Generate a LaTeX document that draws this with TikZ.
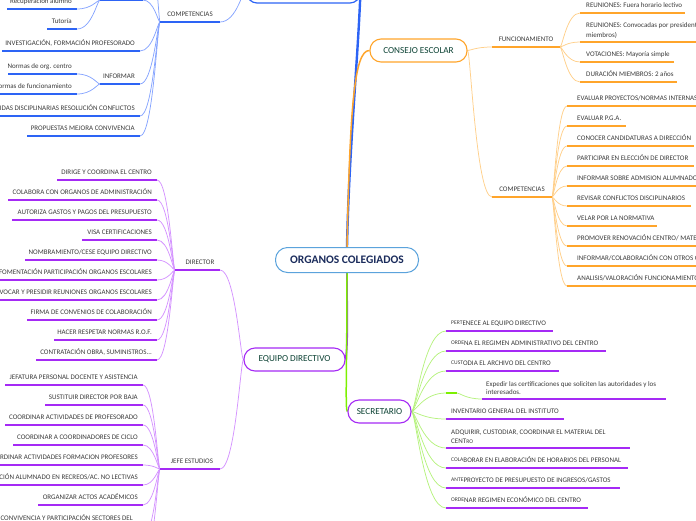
\documentclass[tikz,border=0pt]{standalone}
\usepackage{fontspec}
\setmainfont{Carlito}
\usetikzlibrary{calc}
\pgfdeclarelayer{bg}
\pgfsetlayers{bg,main}
\definecolor{blueD}{HTML}{2D64F5}
\definecolor{blueL}{HTML}{86A4FF}
\definecolor{orangeD}{HTML}{FFA52B}
\definecolor{orangeL}{HTML}{FFCF8A}
\definecolor{purpleD}{HTML}{A52AF5}
\definecolor{purpleL}{HTML}{D493FF}
\definecolor{greenD}{HTML}{7CF000}
\definecolor{greenL}{HTML}{B6F27E}
\definecolor{txtc}{HTML}{3A3A3A}
\definecolor{titlec}{HTML}{0C4234}
\definecolor{cenT}{HTML}{1B2C5C}
\definecolor{cenB}{HTML}{5BA3DC}
\tikzset{
 txt/.style={inner sep=0pt, font=\fontsize{7}{9}\selectfont, text=txtc},
 uline/.style={line width=1.9pt},
 conn/.style={line width=0.75pt},
 titlebox/.style={draw, rounded corners=11pt, line width=1.1pt, fill=white, inner sep=0pt,
   font=\fontsize{9.2}{11}\selectfont, text=titlec},
}
% link from fan #2 to point #3 with style #1
\newcommand\Lk[3]{\begin{pgfonlayer}{bg}\draw[conn,#1] (#2) .. controls ($(#2)!0.12!(#2-|#3)$) and ($(#3-|#2)!0.35!(#3)$) .. (#3);\end{pgfonlayer}}
% left child: name, fan, rightx, y, leftx, text, underline colour, connector colour
\newcommand\Lc[8]{%
 \coordinate (#1r) at (#3,#4);
 \coordinate (#1l) at (#5,#4);
 \node[txt, anchor=base east] (#1) at (#3-5,#4-5.5) {#6};
 \draw[uline,#7] (#1l) -- (#1r);
 \Lk{#8}{#2}{#1r}}
% right child: name, fan, leftx, y, rightx, text, underline colour, connector colour, pad
\newcommand\Rc[9]{%
 \coordinate (#1l) at (#3,#4);
 \coordinate (#1r) at (#5,#4);
 \node[txt, anchor=base west] (#1) at (#3+#9,#4-5.5) {#6};
 \draw[uline,#7] (#1l) -- (#1r);
 \Lk{#8}{#2}{#1l}}
\newcommand\sml[1]{\raisebox{0.9pt}{\fontsize{5.6}{6}\selectfont #1}}
\begin{document}
\begin{tikzpicture}[x=1pt,y=-1pt]
\useasboundingbox (0,0) rectangle (696,520);
\clip (0,0) rectangle (696,520);

% ---------- central ----------
\node[draw=cenB, line width=1pt, rounded corners=12pt, fill=white, inner sep=0pt,
  minimum width=143pt, minimum height=25pt, text=cenT,
  font=\bfseries\fontsize{11.5}{13}\selectfont] (central) at (347,260) {ORGANOS COLEGIADOS};

% ---------- blue (top) ----------
\node[draw=blueD, line width=1.2pt, rounded corners=10pt, minimum width=113pt,
  minimum height=30pt, inner sep=0pt] (claus) at (303.5,-12) {};
\begin{pgfonlayer}{bg}
\draw[blueD, line width=2.4pt] (central.north) .. controls (349,150) and (358,60) .. (claus.east);
\end{pgfonlayer}
\coordinate (bcl) at (160,22);
\coordinate (bcr) at (220,22);
\node[txt, anchor=base] (bcomp) at (190,16.5) {COMPETENCIAS};
\draw[uline,blueD] (bcl) -- (bcr);
\Lk{blueL}{claus.west}{bcr}
\Lc{bz}{bcl}{143}{0}{100}{}{blueD}{blueL}
\coordinate (bzz) at (150,-40);
\Lk{blueL}{bcl}{bzz}
\Lc{bi}{bcl}{140}{51}{2}{INVESTIGACIÓN, FORMACIÓN PROFESORADO}{blueD}{blueL}
\Lc{bn}{bcl}{140}{84}{100}{INFORMAR}{blueD}{blueL}
\Lc{bm}{bcl}{140}{116}{0}{MEDIDAS DISCIPLINARIAS RESOLUCIÓN CONFLICTOS}{blueD}{blueL}
\Lc{bp}{bcl}{140}{136}{27}{PROPUESTAS MEJORA CONVIVENCIA}{blueD}{blueL}
\Lc{br}{bzl}{77}{9}{7}{Recuperación alumno}{blueD}{blueL}
\Lc{bt}{bzl}{77}{29}{47}{Tutoría}{blueD}{blueL}
\Lc{bo}{bnl}{77}{74}{8}{Normas de org. centro}{blueD}{blueL}
\Lc{bf}{bnl}{77}{94}{0}{Normas de funcionamiento}{blueD}{blueL}

% ---------- orange (consejo escolar) ----------
\node[titlebox, draw=orangeD, minimum width=97pt, minimum height=23pt] (cons) at (418.5,50.5) {CONSEJO ESCOLAR};
\begin{pgfonlayer}{bg}
\draw[orangeD, line width=1.5pt] (central.north) .. controls (350,110) and (354,50) .. (cons.west);
\end{pgfonlayer}
\coordinate (fnl) at (492,47);
\coordinate (fnr) at (560,47);
\node[txt, anchor=base] (func) at (526,41.5) {FUNCIONAMIENTO};
\draw[uline,orangeD] (fnl) -- (fnr);
\Lk{orangeL}{cons.east}{fnl}
\coordinate (cpl) at (492,197);
\coordinate (cpr) at (552,197);
\node[txt, anchor=base] (ocomp) at (522,191.5) {COMPETENCIAS};
\draw[uline,orangeD] (cpl) -- (cpr);
\Lk{orangeL}{cons.east}{cpl}

\Rc{fa}{fnr}{580}{13}{685}{REUNIONES: Fuera horario lectivo}{orangeD}{orangeL}{6}
\coordinate (fbl) at (580,42);
\coordinate (fbr) at (710,42);
\node[txt, anchor=base west, font=\fontsize{7}{10}\selectfont] (fb) at (586,27.5)
  {\begin{tabular}[t]{@{}l@{}}REUNIONES: Convocadas por presidente (o 1/3 de los\\miembros)\end{tabular}};
\draw[uline,orangeD] (fbl) -- (fbr);
\Lk{orangeL}{fnr}{fbl}
\Rc{fc}{fnr}{580}{62}{674}{VOTACIONES: Mayoría simple}{orangeD}{orangeL}{6}
\Rc{fd}{fnr}{580}{82}{677}{DURACIÓN MIEMBROS: 2 años}{orangeD}{orangeL}{6}

\Rc{c1}{cpr}{567}{106}{710}{EVALUAR PROYECTOS/NORMAS INTERNAS}{orangeD}{orangeL}{10}
\Rc{c2}{cpr}{567}{126}{626}{EVALUAR P.G.A.}{orangeD}{orangeL}{10}
\Rc{c3}{cpr}{567}{146}{694}{CONOCER CANDIDATURAS A DIRECCIÓN}{orangeD}{orangeL}{10}
\Rc{c4}{cpr}{567}{166}{694}{PARTICIPAR EN ELECCIÓN DE DIRECTOR}{orangeD}{orangeL}{10}
\Rc{c5}{cpr}{567}{186}{710}{INFORMAR SOBRE ADMISION ALUMNADO}{orangeD}{orangeL}{10}
\Rc{c6}{cpr}{567}{206}{691}{REVISAR CONFLICTOS DISCIPLINARIOS}{orangeD}{orangeL}{10}
\Rc{c7}{cpr}{567}{226}{657}{VELAR POR LA NORMATIVA}{orangeD}{orangeL}{10}
\Rc{c8}{cpr}{567}{246}{710}{PROMOVER RENOVACIÓN CENTRO/ MATERIALES}{orangeD}{orangeL}{10}
\Rc{c9}{cpr}{567}{266}{710}{INFORMAR/COLABORACIÓN CON OTROS ORGANISMOS}{orangeD}{orangeL}{10}
\Rc{c10}{cpr}{567}{286}{710}{ANALISIS/VALORACIÓN FUNCIONAMIENTO}{orangeD}{orangeL}{10}

% ---------- purple (equipo directivo) ----------
\node[titlebox, draw=purpleD, minimum width=101pt, minimum height=23pt] (eq) at (294.5,359.5) {EQUIPO DIRECTIVO};
\begin{pgfonlayer}{bg}
\draw[purpleD, line width=1.8pt] (central.south) .. controls (347,320) and (348,345) .. (eq.east);
\end{pgfonlayer}
\coordinate (dil) at (175,270);
\coordinate (dir) at (220,270);
\node[txt, anchor=base] (director) at (200,264.5) {DIRECTOR};
\draw[uline,purpleD] (dil) -- (dir);
\Lk{purpleL}{eq.west}{dir}
\coordinate (jel) at (160,469);
\coordinate (jer) at (220,469);
\node[txt, anchor=base] (jefe) at (192,463.5) {JEFE ESTUDIOS};
\draw[uline,purpleD] (jel) -- (jer);
\Lk{purpleL}{eq.west}{jer}

\Lc{d1}{dil}{157}{180}{57}{DIRIGE Y COORDINA EL CENTRO}{purpleD}{purpleL}
\Lc{d2}{dil}{157}{200}{8}{COLABORA CON ORGANOS DE ADMINISTRACIÓN}{purpleD}{purpleL}
\Lc{d3}{dil}{157}{220}{12}{AUTORIZA GASTOS Y PAGOS DEL PRESUPUESTO}{purpleD}{purpleL}
\Lc{d4}{dil}{157}{240}{82}{VISA CERTIFICACIONES}{purpleD}{purpleL}
\Lc{d5}{dil}{157}{260}{25}{NOMBRAMIENTO/CESE EQUIPO DIRECTIVO}{purpleD}{purpleL}
\Lc{d6}{dil}{157}{280}{0}{FOMENTACIÓN PARTICIPACIÓN ORGANOS ESCOLARES}{purpleD}{purpleL}
\Lc{d7}{dil}{157}{300}{0}{CONVOCAR Y PRESIDIR REUNIONES ORGANOS ESCOLARES}{purpleD}{purpleL}
\Lc{d8}{dil}{157}{320}{27}{FIRMA DE CONVENIOS DE COLABORACIÓN}{purpleD}{purpleL}
\Lc{d9}{dil}{157}{340}{54}{HACER RESPETAR NORMAS R.O.F.}{purpleD}{purpleL}
\Lc{d10}{dil}{157}{360}{36}{CONTRATACIÓN OBRA, SUMINISTROS...}{purpleD}{purpleL}

\Lc{j1}{jel}{143}{385}{5}{JEFATURA PERSONAL DOCENTE Y ASISTENCIA}{purpleD}{purpleL}
\Lc{j2}{jel}{143}{405}{45}{SUSTITUIR DIRECTOR POR BAJA}{purpleD}{purpleL}
\Lc{j3}{jel}{143}{425}{5}{COORDINAR ACTIVIDADES DE PROFESORADO}{purpleD}{purpleL}
\Lc{j4}{jel}{143}{445}{13}{COORDINAR A COORDINADORES DE CICLO}{purpleD}{purpleL}
\Lc{j5}{jel}{143}{465}{0}{COORDINAR ACTIVIDADES FORMACION PROFESORES}{purpleD}{purpleL}
\Lc{j6}{jel}{143}{485}{0}{ORGANIZACIÓN ALUMNADO EN RECREOS/AC. NO LECTIVAS}{purpleD}{purpleL}
\Lc{j7}{jel}{143}{505}{38}{ORGANIZAR ACTOS ACADÉMICOS}{purpleD}{purpleL}
\coordinate (j8l) at (0,536);
\coordinate (j8r) at (143,536);
\node[txt, anchor=base east] (j8) at (133,520.5)
  {\begin{tabular}[t]{@{}r@{}}FOMENTAR CONVIVENCIA Y PARTICIPACIÓN SECTORES DEL\\CENTRO\end{tabular}};
\draw[uline,purpleD] (j8l) -- (j8r);
\Lk{purpleL}{jel}{j8r}
\coordinate (j9r) at (143,560);
\Lk{purpleL}{jel}{j9r}

% ---------- green (secretario) ----------
\node[titlebox, draw=purpleD, minimum width=63pt, minimum height=23pt] (sec) at (379.5,411.5) {SECRETARIO};
\begin{pgfonlayer}{bg}
\draw[greenD, line width=1.5pt] (central.south) .. controls (347,370) and (345,411.5) .. (sec.west);
\end{pgfonlayer}
\Rc{s1}{sec.east}{446}{331}{553}{\sml{PERT}ENECE AL EQUIPO DIRECTIVO}{purpleD}{greenL}{5}
\Rc{s2}{sec.east}{446}{351}{606}{\sml{ORDE}NA EL REGIMEN ADMINISTRATIVO DEL CENTRO}{purpleD}{greenL}{5}
\Rc{s3}{sec.east}{446}{371}{559}{\sml{CUST}ODIA EL ARCHIVO DEL CENTRO}{purpleD}{greenL}{5}
\coordinate (sel) at (446,393);
\coordinate (ser) at (457,393);
\draw[uline,greenD] (sel) -- (ser);
\Lk{greenL}{sec.east}{sel}
\coordinate (sxl) at (482,399);
\coordinate (sxr) at (666,399);
\node[txt, anchor=base west, font=\fontsize{7}{8}\selectfont] (sx) at (486,386.5)
  {\begin{tabular}[t]{@{}l@{}}Expedir las certificaciones que soliciten las autoridades y los\\interesados.\end{tabular}};
\draw[uline,purpleD] (sxl) -- (sxr);
\Lk{greenL}{ser}{sxl}
\Rc{s4}{sec.east}{446}{419}{564}{INVENTARIO GENERAL DEL INSTITUTO}{purpleD}{greenL}{5}
\coordinate (s5l) at (446,448);
\coordinate (s5r) at (630,448);
\node[txt, anchor=base west, font=\fontsize{7}{9}\selectfont] (s5) at (451,434)
  {\begin{tabular}[t]{@{}l@{}}ADQUIRIR, CUSTODIAR, COORDINAR EL MATERIAL DEL\\CENT{\fontsize{5.6}{6}\selectfont RO}\end{tabular}};
\draw[uline,purpleD] (s5l) -- (s5r);
\Lk{greenL}{sec.east}{s5l}
\Rc{s6}{sec.east}{446}{468}{628}{\sml{COLA}BORAR EN ELABORACIÓN DE HORARIOS DEL PERSONAL}{purpleD}{greenL}{5}
\Rc{s7}{sec.east}{446}{488}{620}{\sml{ANTE}PROYECTO DE PRESUPUESTO DE INGRESOS/GASTOS}{purpleD}{greenL}{5}
\Rc{s8}{sec.east}{446}{508}{588}{\sml{ORDE}NAR REGIMEN ECONÓMICO DEL CENTRO}{purpleD}{greenL}{5}
\end{tikzpicture}
\end{document}
